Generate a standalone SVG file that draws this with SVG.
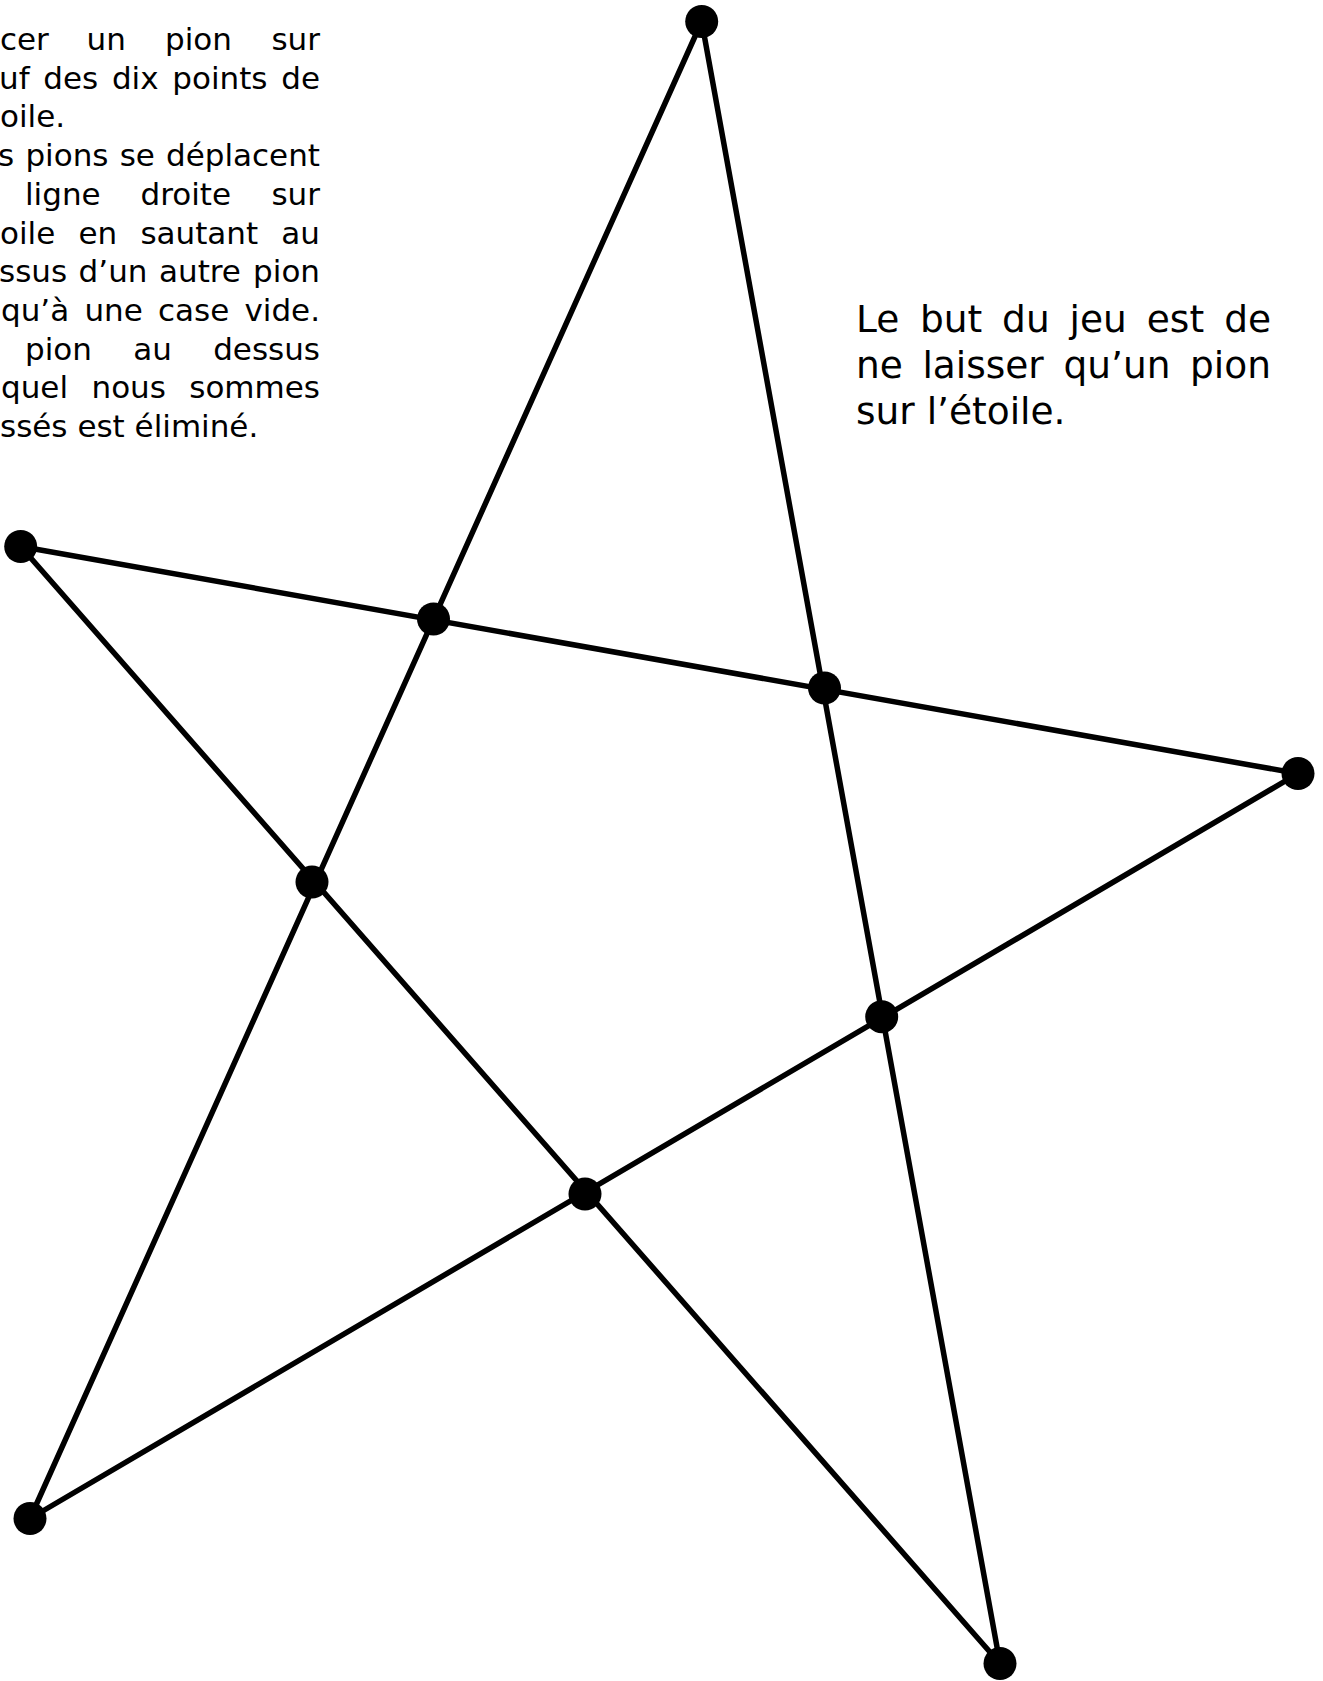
<svg xmlns="http://www.w3.org/2000/svg" width="1323" height="1681" viewBox="0 0 1323 1681">
<style>
.t{font-family:"DejaVu Sans","Liberation Sans",sans-serif;fill:#000}
.l{font-size:31px}
.r{font-size:37.5px}
.e{stroke:#000;stroke-width:5.5;fill:none;stroke-linecap:round}
.p{fill:#000}
</style>
<rect width="1323" height="1681" fill="#fff"/>
<g id="texte-gauche" class="t l">
<text y="50"><tspan x="0">cer</tspan><tspan x="86.5">un</tspan><tspan x="165">pion</tspan><tspan x="320" text-anchor="end">sur</tspan></text>
<text y="88.7"><tspan x="-1">uf</tspan><tspan x="43.3">des</tspan><tspan x="111.9">dix</tspan><tspan x="172.3">points</tspan><tspan x="320" text-anchor="end">de</tspan></text>
<text y="127.4" x="0">oile.</text>
<text y="166.1"><tspan x="-2">s</tspan><tspan x="25.4">pions</tspan><tspan x="119.7">se</tspan><tspan x="320" text-anchor="end">déplacent</tspan></text>
<text y="204.8"><tspan x="25">ligne</tspan><tspan x="140.5">droite</tspan><tspan x="320" text-anchor="end">sur</tspan></text>
<text y="243.5"><tspan x="0">oile</tspan><tspan x="78.5">en</tspan><tspan x="140.4">sautant</tspan><tspan x="320" text-anchor="end">au</tspan></text>
<text y="282.2"><tspan x="-1">ssus</tspan><tspan x="78.6">d’un</tspan><tspan x="159">autre</tspan><tspan x="320" text-anchor="end">pion</tspan></text>
<text y="320.9"><tspan x="1">qu’à</tspan><tspan x="84.4">une</tspan><tspan x="158">case</tspan><tspan x="320" text-anchor="end">vide.</tspan></text>
<text y="359.6"><tspan x="25">pion</tspan><tspan x="133.2">au</tspan><tspan x="320" text-anchor="end">dessus</tspan></text>
<text y="398.3"><tspan x="1">quel</tspan><tspan x="91.5">nous</tspan><tspan x="320" text-anchor="end">sommes</tspan></text>
<text y="437" x="0">ssés est éliminé.</text>
</g>
<g id="texte-droite" class="t r">
<text y="331.5"><tspan x="856">Le</tspan><tspan x="919.9">but</tspan><tspan x="1002.1">du</tspan><tspan x="1069.6">jeu</tspan><tspan x="1146.8">est</tspan><tspan x="1271" text-anchor="end">de</tspan></text>
<text y="377.5"><tspan x="856">ne</tspan><tspan x="922.4">laisser</tspan><tspan x="1063.4">qu’un</tspan><tspan x="1271" text-anchor="end">pion</tspan></text>
<text y="423.5" x="856">sur l’étoile.</text>
</g>
<g id="connecteurs">
<line class="e" x1="701.7" y1="21.5" x2="30" y2="1518.5"/>
<line class="e" x1="701.7" y1="21.5" x2="1000" y2="1663.5"/>
<line class="e" x1="20.7" y1="546.5" x2="1298" y2="773.5"/>
<line class="e" x1="20.7" y1="546.5" x2="1000" y2="1663.5"/>
<line class="e" x1="1298" y1="773.5" x2="30" y2="1518.5"/>
</g>
<g id="pion-haut"><circle class="p" cx="701.7" cy="21.5" r="16.5"/></g>
<g id="pion-gauche"><circle class="p" cx="20.7" cy="546.5" r="16.5"/></g>
<g id="pion-droite"><circle class="p" cx="1298" cy="773.5" r="16.5"/></g>
<g id="pion-bas-gauche"><circle class="p" cx="30" cy="1518.5" r="16.5"/></g>
<g id="pion-bas-droite"><circle class="p" cx="1000" cy="1663.5" r="16.5"/></g>
<g id="pion-int-1"><circle class="p" cx="433.5" cy="619" r="16.5"/></g>
<g id="pion-int-2"><circle class="p" cx="824.5" cy="688" r="16.5"/></g>
<g id="pion-int-3"><circle class="p" cx="312" cy="882" r="16.5"/></g>
<g id="pion-int-4"><circle class="p" cx="881.7" cy="1016.7" r="16.5"/></g>
<g id="pion-int-5"><circle class="p" cx="585" cy="1194" r="16.5"/></g>
</svg>
